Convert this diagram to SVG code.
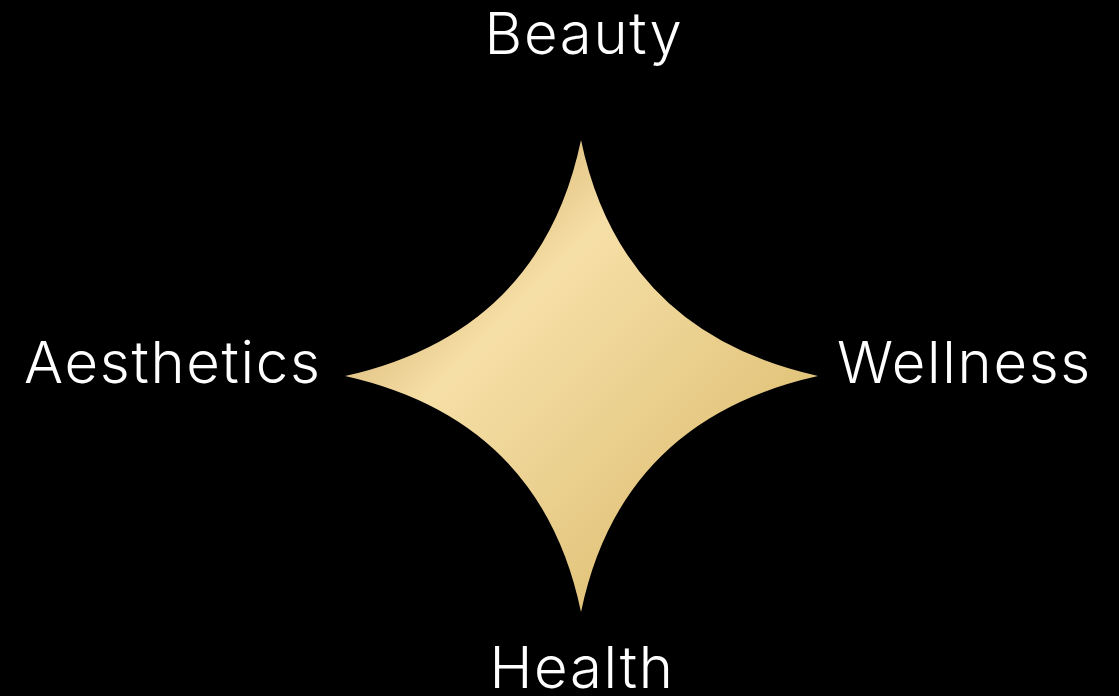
<svg xmlns="http://www.w3.org/2000/svg" width="1119" height="696" viewBox="0 0 1119 696">
<style>
.lbl{font-family:Inter,"Noto Sans","Liberation Sans",sans-serif;font-weight:300;font-size:58px;letter-spacing:1.7px;fill:#ffffff}
</style>
<defs>
<linearGradient id="gold" gradientUnits="userSpaceOnUse" x1="345" y1="140" x2="818" y2="612">
<stop offset="0.18" stop-color="#d9b676"/>
<stop offset="0.36" stop-color="#f6dfa6"/>
<stop offset="0.55" stop-color="#ecd293"/>
<stop offset="0.8" stop-color="#e0c175"/>
<stop offset="1" stop-color="#dcb96c"/>
</linearGradient>
</defs>
<rect width="1119" height="696" fill="#000000"/>
<g id="star">
<path d="M581,140 Q621,332 818,376 Q621,420 581,612 Q541,420 345,376 Q541,332 581,140 Z" fill="url(#gold)"/>
</g>
<g id="connectors"/>
<g id="beauty"><text class="lbl" x="584" y="54" text-anchor="middle">Beauty</text></g>
<g id="aesthetics"><text class="lbl" x="24" y="383">Aesthetics</text></g>
<g id="wellness"><text class="lbl" x="837" y="383">Wellness</text></g>
<g id="health"><text class="lbl" x="582" y="688" text-anchor="middle">Health</text></g>
</svg>
